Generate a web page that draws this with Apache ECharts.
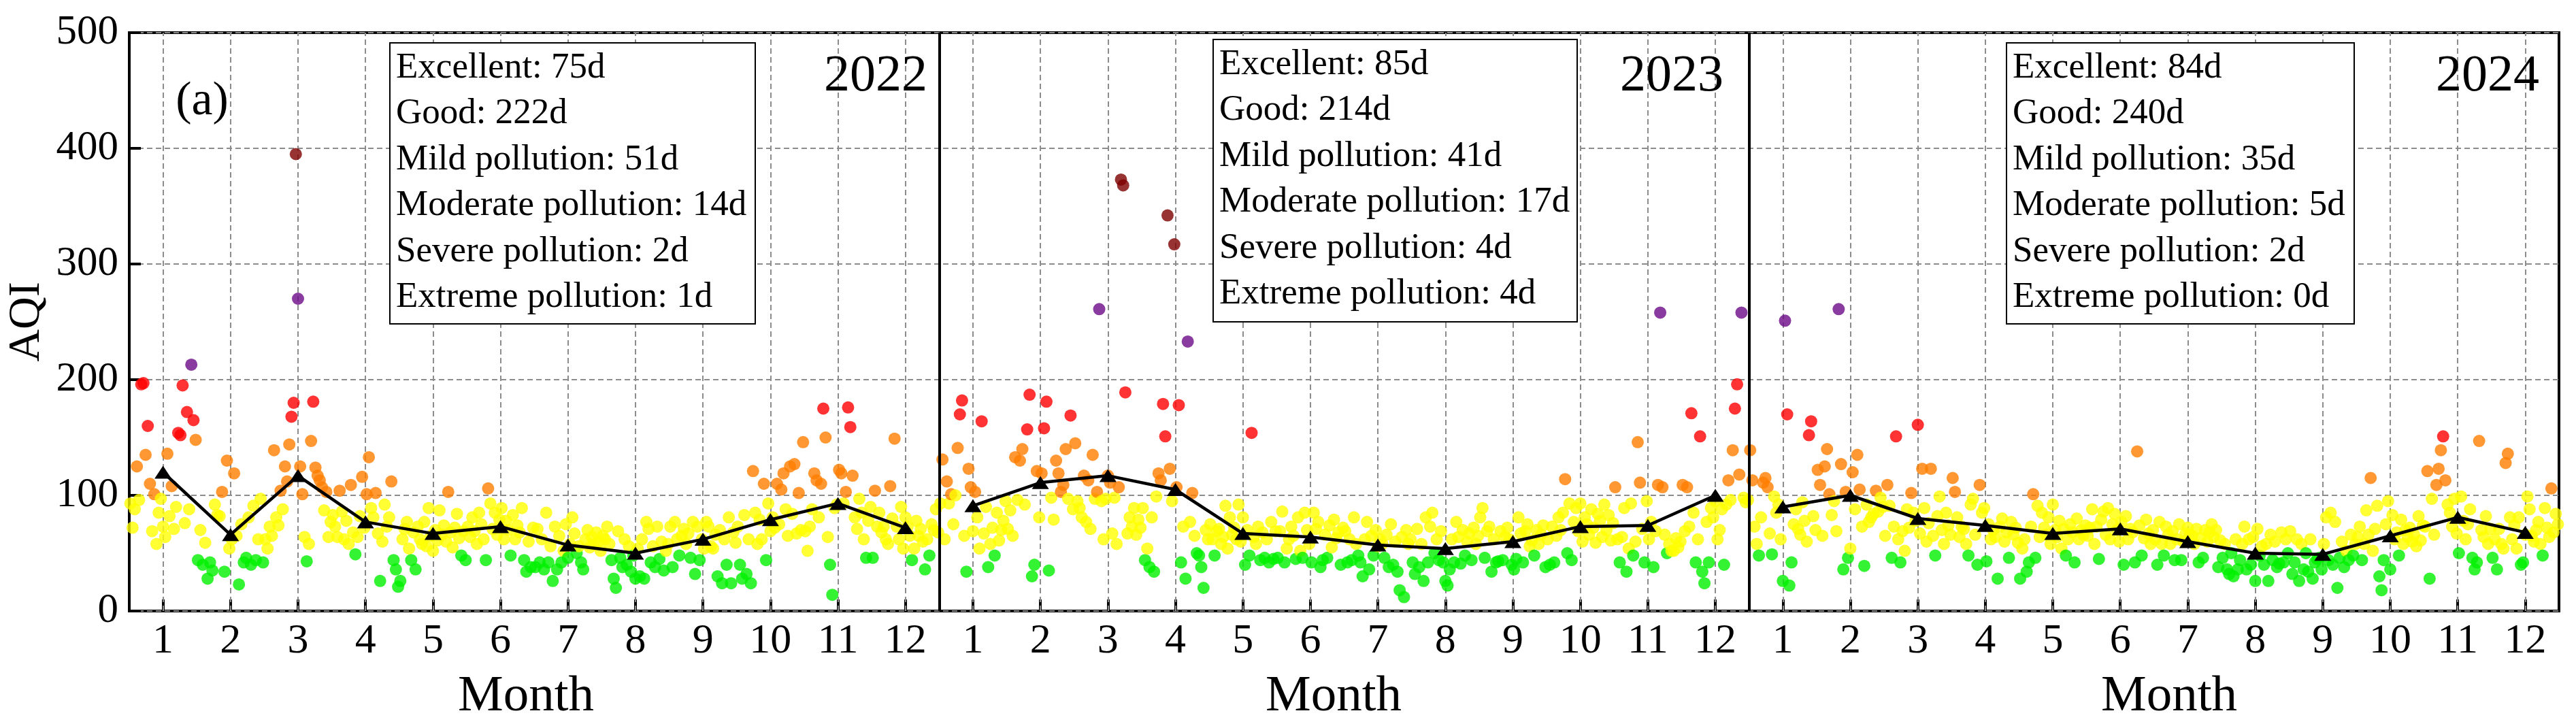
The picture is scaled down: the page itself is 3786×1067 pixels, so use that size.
<!DOCTYPE html>
<html>
<head>
<meta charset="utf-8">
<title>AQI 2022-2024</title>
<script src="https://cdn.jsdelivr.net/npm/echarts@6.0.0/dist/echarts.min.js"></script>
<style>
  html, body { margin: 0; padding: 0; background: #fff; }
  #chart { width: 3786px; height: 1067px; }
</style>
</head>
<body>
<div id="chart"></div>
<script>
// daily AQI, one array per month
var daily2022 = [
  [93,72,88,125,96,196,197,135,160,110,69,101,58,85,97,73,64,136,82,108,71,90,154,152,195,76,172,88,213,165,148],
  [44,70,40,59,28,42,35,92,83,82,103,34,130,54,62,119,65,23,75,42,46,81,40,91,44,62,97,42],
  [62,54,73,65,139,81,74,104,88,125,112,144,168,180,395,270,125,101,64,43,58,147,181,124,117,113,107,87,103,64,77],
  [83,73,64,104,86,62,78,58,109,68,49,64,82,116,72,101,133,89,81,102,67,26,60,92,73,81,112,44,36,21],
  [26,62,71,77,54,44,68,36,73,62,58,77,56,89,65,52,70,61,87,66,74,60,103,68,55,72,84,63,48,69,44],
  [73,64,81,69,58,85,75,62,44,106,93,71,85,66,79,89,62,78,70,48,83,62,74,68,89,44,34,60,38,72],
  [38,71,42,62,36,85,42,56,26,73,36,65,42,52,75,46,58,81,67,50,56,42,36,62,70,55,64,58,68,60,52],
  [65,62,73,58,44,28,20,69,46,38,62,40,56,34,48,28,54,30,62,28,77,71,42,56,38,73,45,60,35,52,58],
  [73,38,77,62,48,65,71,58,67,46,77,32,73,44,62,54,77,73,56,54,66,30,70,24,62,40,81,24,68,59],
  [73,40,28,83,32,62,24,121,85,58,79,62,110,44,93,69,81,72,110,75,105,119,88,65,125,84,127,67,102,70,146],
  [69,52,73,88,119,113,81,110,175,150,64,40,14,89,92,122,119,93,103,176,159,117,81,71,97,85,62,46,78,90],
  [46,104,73,85,68,73,62,58,108,80,149,73,62,90,54,81,73,65,44,54,78,65,71,60,36,62,48,75,70,88,68]
];
var daily2023 = [
  [93,131,62,112,93,101,75,100,141,170,182,65,34,123,107,69,103,81,54,164,67,90,38,58,72,48,85,61,70,78,95],
  [71,87,65,133,96,130,140,92,157,187,30,40,121,81,119,158,181,35,98,79,130,119,103,109,140,97,169,88],
  [145,95,89,81,117,77,113,71,135,97,103,261,95,62,97,117,111,67,98,58,107,373,368,189,67,81,73,89,66,79,72],
  [89,44,54,38,81,34,99,119,113,179,151,342,123,95,317,107,178,42,73,28,233,77,102,65,50,48,38,20,70,62],
  [75,62,48,69,71,58,64,91,54,81,66,72,62,92,60,81,40,70,48,154,64,58,73,44,68,46,62,42,77,45,69],
  [46,69,86,42,54,62,73,65,45,81,52,46,85,70,58,42,85,71,77,38,44,66,46,74,55,79,63,68,40,72],
  [69,42,62,44,81,58,48,42,30,62,77,36,65,48,70,56,62,58,46,66,38,75,40,60,34,18,64,12,70,58,62],
  [42,32,71,38,58,26,81,42,73,85,50,62,44,69,42,26,22,36,62,42,77,64,41,70,48,60,67,44,72,58,65],
  [81,89,46,69,73,34,62,42,43,69,44,64,72,62,40,36,45,81,67,42,69,75,56,61,48,70,58,66,74,38],
  [62,40,73,42,65,81,70,85,114,50,93,44,77,89,69,93,60,81,75,66,88,72,59,84,78,64,92,70,83,61,76],
  [107,62,42,64,89,34,54,93,48,60,146,111,71,42,95,62,77,38,69,109,258,107,66,50,58,52,52,63,55,60],
  [109,69,107,73,171,85,42,62,151,34,24,77,42,89,81,95,62,70,88,40,92,113,96,139,175,196,118,258,98,94,96]
];
var daily2024 = [
  [139,113,73,58,48,81,111,115,107,67,49,99,85,92,62,26,251,170,22,42,75,88,71,66,94,78,60,152,164,82,70],
  [122,109,65,125,140,101,83,95,69,261,127,36,103,46,54,120,88,135,105,73,39,92,77,81,84,104,86,98,90],
  [65,109,91,46,73,151,62,42,69,52,88,72,102,85,78,161,67,123,89,60,76,123,65,48,82,99,70,58,85,74,66],
  [115,103,81,64,73,71,58,48,92,97,66,40,109,85,89,43,75,62,70,64,28,73,80,60,68,46,77,66,72,59],
  [28,54,62,34,42,73,101,46,91,64,85,72,66,81,58,92,70,64,78,54,71,48,62,75,68,42,80,62,70,66,74],
  [65,72,88,58,73,45,79,86,66,89,62,75,84,70,60,77,40,82,62,71,68,42,138,74,48,63,79,67,58,70],
  [62,40,77,58,48,73,66,58,69,44,62,75,44,60,67,72,66,65,58,71,42,63,46,70,60,68,75,64,70,38,61],
  [46,58,36,32,50,30,62,36,44,58,73,36,62,40,64,26,71,48,56,40,58,26,66,44,60,38,41,68,42,62,50],
  [69,32,42,62,26,58,36,50,34,62,28,42,45,46,36,58,81,44,85,40,77,20,46,60,38,52,44,66,48,58],
  [64,73,44,58,87,66,115,52,71,91,30,18,44,75,95,36,83,62,68,48,79,58,70,64,72,60,66,56,82,61,74],
  [73,121,28,97,66,109,123,139,151,113,92,85,73,97,67,50,99,78,62,75,88,46,36,42,147,70,64,82,58,71],
  [46,62,36,71,58,54,128,136,81,62,74,54,81,40,42,66,99,88,65,60,70,77,58,48,89,72,64,106,68,84,75]
];

// monthly mean AQI (black triangles)
var mean2022 = [120, 66, 117, 77, 67, 73, 57, 50, 62, 79, 93, 72];
var mean2023 = [91, 111, 117, 105, 67, 64, 57, 54, 60, 73, 74, 100];
var mean2024 = [90, 100, 80, 74, 67, 71, 60, 50, 49, 65, 81, 68];

var years = ['2022', '2023', '2024'];
var monthLabels = ['1','2','3','4','5','6','7','8','9','10','11','12'];
var levelCounts = [
  [75, 222, 51, 14, 2, 1],
  [85, 214, 41, 17, 4, 4],
  [84, 240, 35, 5, 2, 0]
];
var levelNames = ['Excellent', 'Good', 'Mild pollution', 'Moderate pollution', 'Severe pollution', 'Extreme pollution'];

var FONT = '"Liberation Serif", "Times New Roman", serif';

var dailyAll = [daily2022, daily2023, daily2024];
var meanAll = [mean2022, mean2023, mean2024];

// x position: year block of 12 months, each month spread over [m-0.5, m+0.5]
var points = [];
dailyAll.forEach(function (yr, yi) {
  yr.forEach(function (days, m) {
    days.forEach(function (v, d) {
      points.push([yi * 12 + m + 0.5 + (d + 0.5) / days.length, v]);
    });
  });
});

var tickValues = [];
for (var i = 1; i <= 36; i++) tickValues.push(i);

var chart = echarts.init(document.getElementById('chart'));

var lineSeries = meanAll.map(function (means, yi) {
  return {
    type: 'line',
    name: years[yi],
    data: means.map(function (v, m) { return [yi * 12 + m + 1, v]; }),
    symbol: 'triangle',
    symbolSize: [25, 19],
    showSymbol: true,
    itemStyle: { color: '#000' },
    lineStyle: { color: '#000', width: 4.5 },
    z: 4,
    silent: true
  };
});
// solid dividers between the years
lineSeries[0].markLine = {
  silent: true,
  symbol: 'none',
  z: 6,
  label: { show: false },
  lineStyle: { color: '#000', width: 4, type: 'solid' },
  data: [{ xAxis: 12.5 }, { xAxis: 24.5 }]
};

var graphics = [];
// (a)
graphics.push({
  type: 'text', x: 297, y: 150, z: 20,
  style: { text: '(a)', font: '70px ' + FONT, fill: '#000', align: 'center', verticalAlign: 'middle' }
});
// AQI
graphics.push({
  type: 'text', x: 40, y: 473, rotation: Math.PI / 2, z: 20,
  style: { text: 'AQI', font: '66px ' + FONT, fill: '#000', align: 'center', verticalAlign: 'middle' }
});
var boxes = [
  { x: 573, y: 63, w: 537, h: 413 },
  { x: 1783, y: 58, w: 535, h: 415 },
  { x: 2949, y: 63, w: 511, h: 413 }
];
var yearRight = [1363, 2533, 3732];
var monthX = [773, 1960, 3188];
boxes.forEach(function (b, yi) {
  graphics.push({
    type: 'rect', z: 20,
    shape: { x: b.x, y: b.y, width: b.w, height: b.h },
    style: { fill: '#fff', stroke: '#000', lineWidth: 2 }
  });
  graphics.push({
    type: 'text', x: b.x + 9, y: b.y + 3, z: 21,
    style: {
      text: levelNames.map(function (n, k) { return n + ': ' + levelCounts[yi][k] + 'd'; }).join('\n'),
      font: '53px ' + FONT, fill: '#000', lineHeight: 67.5,
      align: 'left', verticalAlign: 'top'
    }
  });
  graphics.push({
    type: 'text', x: yearRight[yi], y: 113, z: 21,
    style: { text: years[yi], font: '76px ' + FONT, fill: '#000', align: 'right', verticalAlign: 'middle' }
  });
  graphics.push({
    type: 'text', x: monthX[yi], y: 1024, z: 21,
    style: { text: 'Month', font: '75px ' + FONT, fill: '#000', align: 'center', verticalAlign: 'middle' }
  });
});

chart.setOption({
  animation: false,
  backgroundColor: '#fff',
  grid: {
    left: 190, right: 25, top: 48, bottom: 169,
    show: true, borderColor: '#000', borderWidth: 4, backgroundColor: 'transparent'
  },
  xAxis: {
    type: 'value', min: 0.5, max: 36.5,
    axisLine: { show: false },
    axisTick: {
      show: true, inside: true, length: 17, customValues: tickValues,
      lineStyle: { color: '#000', width: 4 }
    },
    axisLabel: {
      customValues: tickValues,
      formatter: function (v) { return monthLabels[(Math.round(v) - 1) % 12]; },
      margin: 14, fontSize: 62, fontFamily: FONT, color: '#000'
    },
    splitLine: { show: false }
  },
  yAxis: {
    type: 'value', min: 0, max: 500, interval: 100,
    axisLine: { show: false },
    axisTick: { show: true, inside: true, length: 17, lineStyle: { color: '#000', width: 4 } },
    axisLabel: { margin: 16, fontSize: 61, fontFamily: FONT, color: '#000' },
    splitLine: { show: true, lineStyle: { color: '#8c8c8c', width: 2, type: [8, 5] } }
  },
  visualMap: {
    show: false,
    type: 'piecewise',
    seriesIndex: 0,
    dimension: 1,
    pieces: [
      { lte: 50, color: '#00f000' },
      { gt: 50, lte: 100, color: '#ffff00' },
      { gt: 100, lte: 150, color: '#ff7e00' },
      { gt: 150, lte: 200, color: '#ff0000' },
      { gt: 200, lte: 300, color: '#6b0a87' },
      { gt: 300, color: '#7e0000' }
    ]
  },
  series: [
    {
      type: 'scatter',
      data: points,
      symbol: 'circle',
      symbolSize: 18,
      z: 2,
      silent: true,
      // dashed vertical grid at each month
      markLine: {
        silent: true,
        symbol: 'none',
        z: 1,
        label: { show: false },
        lineStyle: { color: '#8c8c8c', width: 2, type: [8, 5] },
        data: tickValues.map(function (v) { return { xAxis: v }; })
      }
    }
  ].concat(lineSeries),
  graphic: graphics
});
</script>
</body>
</html>
